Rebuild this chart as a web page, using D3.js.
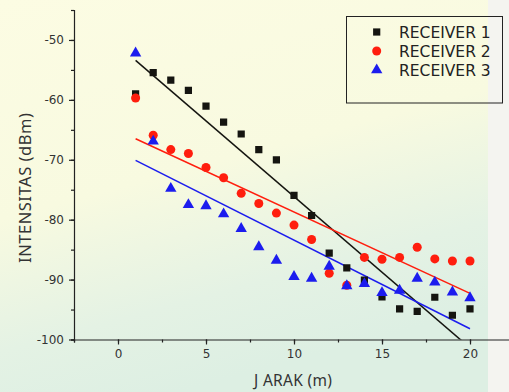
<!DOCTYPE html>
<html>
<head>
<meta charset="utf-8">
<script src="https://cdn.jsdelivr.net/npm/d3@7"></script>
<style>
  body { margin: 0; }
  svg { display: block; font-family: "DejaVu Sans", sans-serif; }
</style>
</head>
<body>
<svg width="509" height="392"></svg>
<script>
// jarak (m)
const jarak = [1,2,3,4,5,6,7,8,9,10,11,12,13,14,15,16,17,18,19,20];
const receiver1 = [-59,-55.45,-56.7,-58.4,-61.05,-63.7,-65.7,-68.3,-70,-75.95,-79.3,-85.6,-88.05,-90.1,-92.9,-94.9,-95.3,-92.95,-95.95,-94.9];
const receiver2 = [-59.7,-65.9,-68.3,-68.95,-71.3,-73,-75.6,-77.3,-78.9,-80.9,-83.3,-88.95,-90.95,-86.3,-86.6,-86.3,-84.6,-86.55,-86.9,-86.9];
const receiver3 = [-52.2,-66.9,-74.8,-77.5,-77.7,-79.05,-81.5,-84.55,-86.8,-89.5,-89.8,-87.8,-91.05,-90.7,-92.2,-91.8,-89.8,-90.45,-92.1,-93.05];
// garis fit: nilai di x=1 dan x=20
const fit1 = [-53.4, -101.4];
const fit2 = [-66.5, -92.3];
const fit3 = [-70.1, -98.2];
const seriesNames = ['RECEIVER 1','RECEIVER 2','RECEIVER 3'];
const xTicks = [0,5,10,15,20];
const yTicks = [-100,-90,-80,-70,-60,-50];

const svg = d3.select('svg');
const width = +svg.attr('width');
const height = +svg.attr('height');

// background (watermark tint)
const defs = svg.append('defs');
const grad = defs.append('linearGradient').attr('id','bg')
  .attr('x1',0).attr('y1',0).attr('x2',0.35).attr('y2',1);
grad.append('stop').attr('offset','0%').attr('stop-color','#fcfce3');
grad.append('stop').attr('offset','50%').attr('stop-color','#f8fae0');
grad.append('stop').attr('offset','80%').attr('stop-color','#e4f2e4');
grad.append('stop').attr('offset','100%').attr('stop-color','#ddefe3');
svg.append('rect').attr('width',width).attr('height',height).attr('fill','url(#bg)');
svg.append('rect').attr('x',488).attr('width',21).attr('height',height).attr('fill','#f4f4f0');

const x = d3.scaleLinear().domain([-2.5,22.5]).range([74,514]);
const y = d3.scaleLinear().domain([-100,-45]).range([339.5,10]);

defs.append('clipPath').attr('id','plot')
  .append('rect').attr('x',74).attr('y',10).attr('width',440).attr('height',329.5);

const axisColor = '#222';
const fmt = d => String(d);

// minor ticks
const gX = svg.append('g').attr('transform','translate(0,339.5)');
gX.call(d3.axisBottom(x).tickValues(d3.range(-2.5,23,2.5)).tickSize(3).tickFormat(''));
gX.append('g').call(d3.axisBottom(x).tickValues(xTicks).tickSize(5).tickPadding(5).tickFormat(fmt))
  .call(g => g.select('.domain').remove());
const gY = svg.append('g').attr('transform','translate(74,0)');
gY.call(d3.axisLeft(y).tickValues(d3.range(-100,-44,5)).tickSize(3).tickFormat(''));
gY.append('g').call(d3.axisLeft(y).tickValues(yTicks).tickSize(5).tickPadding(5).tickFormat(fmt))
  .call(g => g.select('.domain').remove());
svg.selectAll('.domain, .tick line').attr('stroke',axisColor).attr('stroke-width',1.2);
svg.selectAll('.tick text').attr('fill','#333').attr('font-size',12)
  .attr('font-family','"DejaVu Sans", sans-serif');

// axis titles
svg.append('text').attr('x',254).attr('y',386).attr('font-size',15.5).attr('fill','#333')
  .attr('font-family','"Noto Sans", sans-serif')
  .attr('textLength',78).attr('lengthAdjust','spacing')
  .text('J ARAK (m)');
svg.append('text').attr('transform','translate(30.5,188) rotate(-90)')
  .attr('text-anchor','middle').attr('font-size',16.5).attr('fill','#333')
  .attr('font-family','"Noto Sans", sans-serif')
  .attr('textLength',150).attr('lengthAdjust','spacing')
  .text('INTENSITAS (dBm)');

const plot = svg.append('g').attr('clip-path','url(#plot)');
const colors = ['#151510','#ff1e0e','#1c1cee'];
const fits = [fit1, fit2, fit3];

fits.forEach((f,i) => {
  plot.append('line')
    .attr('x1', x(jarak[0])).attr('y1', y(f[0]))
    .attr('x2', x(jarak[jarak.length-1])).attr('y2', y(f[1]))
    .attr('stroke', colors[i]).attr('stroke-width',1.5);
});

const sym = [d3.symbolSquare, d3.symbolCircle, d3.symbolTriangle];
const symSize = [52, 64, 56];
[receiver1, receiver2, receiver3].forEach((vals,i) => {
  plot.selectAll(null).data(vals).enter().append('path')
    .attr('d', d3.symbol().type(sym[i]).size(symSize[i]))
    .attr('transform', (d,j) => 'translate(' + x(jarak[j]) + ',' + y(d) + ')')
    .attr('fill', colors[i]);
});

// legend
const leg = svg.append('g');
leg.append('rect').attr('x',346.5).attr('y',16.5).attr('width',156).attr('height',86.5)
  .attr('fill','none').attr('stroke','#222').attr('stroke-width',1);
seriesNames.forEach((n,i) => {
  const cy = 32 + i*19;
  leg.append('path').attr('d', d3.symbol().type(sym[i]).size(symSize[i]))
    .attr('transform','translate(376.7,' + cy + ')').attr('fill',colors[i]);
  leg.append('text').attr('x',399).attr('y',cy+5.5).attr('font-size',15.5).attr('fill','#222').text(n);
});
</script>
</body>
</html>
